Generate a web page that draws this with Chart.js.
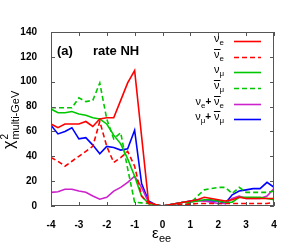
<!DOCTYPE html>
<html>
<head>
<meta charset="utf-8">
<script src="https://cdn.jsdelivr.net/npm/chart.js@4"></script>
<style>
  body { margin: 0; background: #fff; }
  #wrap { width: 292px; height: 250px; }
</style>
</head>
<body>
<div id="wrap"><canvas id="chart" width="292" height="250"></canvas></div>
<script>
// epsilon_ee values (x axis)
let eps = [-4, -3.75, -3.5, -3.25, -3, -2.75, -2.5, -2.25, -2, -1.75, -1.5, -1.25, -1, -0.75, -0.5, -0.25,
    0, 0.25, 0.5, 0.75, 1, 1.25, 1.5, 1.75, 2, 2.25, 2.5, 2.75, 3, 3.25, 3.5, 3.75, 4]

// chi^2 for each channel
let nue = [66, 63, 66, 66, 66, 68, 64, 70, 71, 71, 85, 99, 109, 56, 3, 1,
    0, 1, 2, 3, 4, 5, 7, 6, 5, 4, 5, 7, 6, 6, 6, 6, 6]
let nuebar = [39, 36, 32, 36, 40, 44, 48, 68, 48, 35, 39, 44, 32, 8, 2, 1,
    0, 0.5, 1, 1, 1.5, 2, 2, 2, 2, 2, 2, 2, 2, 2, 2, 2, 3]
let numu = [78, 75, 75, 76, 74, 73, 71, 70, 66, 57, 50, 38, 24, 8, 2, 1,
    0, 1, 2, 3, 3, 4, 5, 5, 4, 3, 3, 7, 7, 7, 7, 6, 5]
let numubar = [79, 79, 79, 79, 87, 84, 85, 99, 70, 54, 59, 30, 3, 2.5, 2, 1,
    0, 0.5, 0.5, 1, 2, 8, 13, 14, 15, 15, 10, 15, 11, 11, 11, 11, 12]
let nueSum = [11, 11.5, 13.5, 13.5, 12, 11, 8, 5.5, 7, 12, 15, 19, 24, 15, 3, 1,
    0, 1, 2, 3, 3.5, 4, 4, 3, 2, 2, 6, 8, 6, 6, 6, 8, 14]
let numuSum = [65, 58, 60, 63, 54, 55, 49, 42, 48, 47, 45, 46, 61, 18, 4, 1,
    0, 1, 2, 3, 4, 5, 4, 4, 4, 2, 9, 12, 13, 14, 14, 19, 15]

let yTicks = [0, 20, 40, 60, 80, 100, 120, 140]
let xTicks = [-4, -3, -2, -1, 0, 1, 2, 3, 4]

const RED = '#ff0000', GREEN = '#00c800', MAG = '#cc22cc', BLUE = '#0000ff'
const pts = arr => eps.map((x, i) => ({ x: x, y: arr[i] }))

const mkSet = (label, arr, color, dash) => ({
    label: label,
    data: pts(arr),
    borderColor: color,
    backgroundColor: color,
    borderWidth: 1.6,
    borderDash: dash ? [5, 3] : [],
    pointRadius: 0,
    tension: 0,
    fill: false
})

// legend rows: parts of the label, colour, dashed
let legendRows = [
    { parts: [['ν', 0], ['e', 'sub']], color: RED, dash: false },
    { parts: [['ν', 1], ['e', 'sub']], color: RED, dash: true },
    { parts: [['ν', 0], ['μ', 'sub']], color: GREEN, dash: false },
    { parts: [['ν', 1], ['μ', 'sub']], color: GREEN, dash: true },
    { parts: [['ν', 0], ['e', 'sub'], ['+ ', 'plus'], ['ν', 1], ['e', 'sub']], color: MAG, dash: false },
    { parts: [['ν', 0], ['μ', 'sub'], ['+ ', 'plus'], ['ν', 1], ['μ', 'sub']], color: BLUE, dash: false }
]
let legendY = [41, 57, 72, 88, 104, 119]

const FONT = '"Liberation Sans", Arial, sans-serif'

const decor = {
    id: 'decor',
    afterDraw(chart) {
        const c = chart.ctx
        const a = chart.chartArea
        const xs = chart.scales.x, ys = chart.scales.y
        c.save()
        // frame
        c.strokeStyle = '#555'
        c.lineWidth = 1
        c.strokeRect(a.left + 0.5, a.top + 0.5, a.right - a.left - 1, a.bottom - a.top - 1)
        // inner ticks on all sides
        c.beginPath()
        xTicks.forEach(v => {
            const px = Math.round(xs.getPixelForValue(v)) + 0.5
            c.moveTo(px, a.bottom); c.lineTo(px, a.bottom - 4)
            c.moveTo(px, a.top); c.lineTo(px, a.top + 4)
        })
        yTicks.forEach(v => {
            const py = Math.round(ys.getPixelForValue(v)) + 0.5
            c.moveTo(a.left, py); c.lineTo(a.left + 4, py)
            c.moveTo(a.right, py); c.lineTo(a.right - 4, py)
        })
        c.stroke()

        // panel label
        c.fillStyle = '#000'
        c.font = 'bold 13px ' + FONT
        c.textBaseline = 'alphabetic'
        c.textAlign = 'left'
        c.fillText('(a)', 57, 55)
        c.fillText('rate NH', 93, 55)

        // legend
        legendRows.forEach((row, i) => {
            const y = legendY[i]
            const base = y + 1
            let w = 0
            row.parts.forEach(p => {
                c.font = (p[1] === 'sub' ? '8px ' : p[1] === 'plus' ? 'bold 10px ' : '11px ') + FONT
                w += c.measureText(p[0]).width
            })
            let x = 224 - w
            row.parts.forEach(p => {
                c.font = (p[1] === 'sub' ? '8px ' : p[1] === 'plus' ? 'bold 10px ' : '11px ') + FONT
                const tw = c.measureText(p[0]).width
                const yy = p[1] === 'sub' ? base + 3 : base
                c.fillText(p[0], x, yy)
                if (p[1] === 1) {
                    c.fillRect(x, base - 9, tw + 1, 1)
                }
                x += tw
            })
            c.strokeStyle = row.color
            c.lineWidth = 1.6
            c.setLineDash(row.dash ? [5, 3] : [])
            c.beginPath()
            c.moveTo(234, y + 0.5); c.lineTo(261, y + 0.5)
            c.stroke()
            c.setLineDash([])
        })

        // x title
        c.fillStyle = '#000'
        c.font = '15px ' + FONT
        c.fillText('ε', 152, 238)
        c.font = '11px ' + FONT
        c.fillText('ee', 159, 242)

        // y title (rotated)
        c.translate(14, 149)
        c.rotate(-Math.PI / 2)
        c.font = '16px ' + FONT
        c.fillText('χ', 0, 0)
        const cw = c.measureText('χ').width
        c.font = '10px ' + FONT
        c.fillText('2', cw + 1, -6)
        c.font = '11px ' + FONT
        c.fillText('multi-GeV', cw + 1, 5)
        c.restore()
    }
}

let ctx = document.getElementById('chart').getContext('2d')
let chart = new Chart(ctx, {
    type: 'line',
    data: {
        datasets: [
            mkSet('nue', nue, RED, false),
            mkSet('nuebar', nuebar, RED, true),
            mkSet('numu', numu, GREEN, false),
            mkSet('numubar', numubar, GREEN, true),
            mkSet('nue+nuebar', nueSum, MAG, false),
            mkSet('numu+numubar', numuSum, BLUE, false)
        ]
    },
    options: {
        responsive: false,
        animation: false,
        devicePixelRatio: 1,
        layout: {
            padding: { left: 0, right: 18, top: 32, bottom: 0 }
        },
        plugins: {
            legend: { display: false },
            tooltip: { enabled: false }
        },
        scales: {
            x: {
                type: 'linear',
                min: -4,
                max: 4,
                grid: { display: false },
                border: { display: false },
                ticks: {
                    stepSize: 1,
                    padding: 5,
                    color: '#000',
                    font: { family: FONT, size: 10, weight: 'bold' }
                },
                afterFit: s => { s.height = 44 }
            },
            y: {
                min: 0,
                max: 140,
                grid: { display: false },
                border: { display: false },
                ticks: {
                    stepSize: 20,
                    padding: 6,
                    color: '#000',
                    font: { family: FONT, size: 10, weight: 'bold' }
                },
                afterFit: s => { s.width = 51 }
            }
        }
    },
    plugins: [decor]
})
</script>
</body>
</html>
